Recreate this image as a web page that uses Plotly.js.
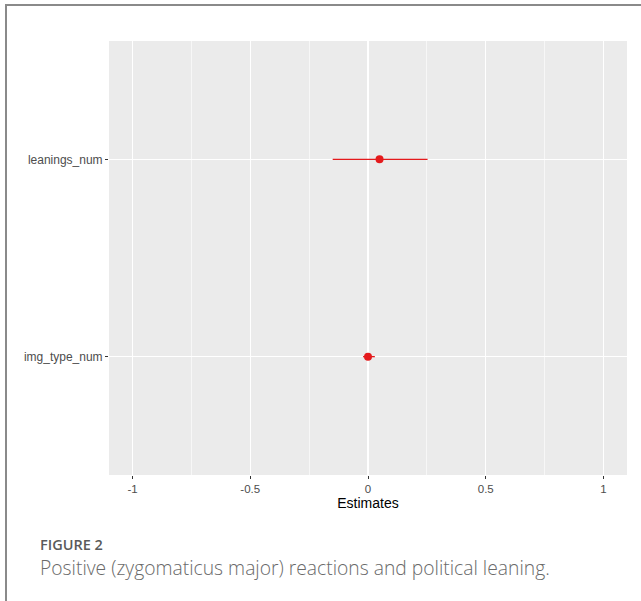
<!DOCTYPE html>
<html>
<head>
<meta charset="utf-8">
<script src="https://cdn.plot.ly/plotly-3.0.1.min.js"></script>
<style>
  html, body { margin: 0; padding: 0; background: #fff; }
  #wrap { position: relative; width: 641px; height: 601px; overflow: hidden; }
  #chart { position: absolute; left: 0; top: 0; width: 641px; height: 601px; }
  #frame { position: absolute; left: 5px; top: 4px; width: 700px; height: 700px;
           border-left: 2px solid #8a8a8a; border-top: 2px solid #8a8a8a; pointer-events: none; }
</style>
</head>
<body>
<div id="wrap">
  <div id="chart"></div>
  <div id="frame"></div>
</div>
<script>
// Data
var terms = ["img_type_num", "leanings_num"];
var estimates = [0.0, 0.049];
var ciLower = [-0.021, -0.15];
var ciUpper = [0.029, 0.253];
var xTickVals = [-1, -0.5, 0, 0.5, 1];
var xTickText = ["-1", "-0.5", "0", "0.5", "1"];

var errPlus = estimates.map(function (e, i) { return ciUpper[i] - e; });
var errMinus = estimates.map(function (e, i) { return e - ciLower[i]; });

var red = "#E41A1C";

var trace = {
  type: "scatter",
  mode: "markers",
  x: estimates,
  y: terms,
  marker: { color: red, size: 8 },
  error_x: {
    type: "data",
    symmetric: false,
    array: errPlus,
    arrayminus: errMinus,
    color: red,
    thickness: 1.3,
    width: 0
  },
  hoverinfo: "skip",
  showlegend: false
};

var layout = {
  width: 641,
  height: 601,
  margin: { l: 109, r: 14, t: 41, b: 126 },
  paper_bgcolor: "#ffffff",
  plot_bgcolor: "#EBEBEB",
  font: { family: "Liberation Sans, Arial, sans-serif", color: "#4D4D4D" },
  showlegend: false,
  xaxis: {
    range: [-1.1, 1.1],
    tickmode: "array",
    tickvals: xTickVals,
    ticktext: xTickText,
    ticks: "outside",
    ticklen: 3,
    tickwidth: 1,
    tickcolor: "#333333",
    tickfont: { size: 11.5, color: "#4D4D4D" },
    showgrid: true,
    gridcolor: "#ffffff",
    gridwidth: 1.1,
    minor: { tickmode: "array", tickvals: [-0.75, -0.25, 0.25, 0.75], showgrid: true, gridcolor: "#ffffff", gridwidth: 0.6, ticks: "" },
    zeroline: true,
    zerolinecolor: "#ffffff",
    zerolinewidth: 2,
    showline: false,
    fixedrange: true,
    title: { text: "Estimates", font: { size: 14, color: "#000000" }, standoff: 4 }
  },
  yaxis: {
    type: "category",
    categoryorder: "array",
    categoryarray: terms,
    range: [-0.6, 1.6],
    ticks: "outside",
    ticklen: 3,
    tickwidth: 1,
    tickcolor: "#333333",
    tickfont: { size: 12, color: "#4D4D4D" },
    showgrid: true,
    gridcolor: "#ffffff",
    gridwidth: 1.1,
    zeroline: false,
    showline: false,
    fixedrange: true
  },
  annotations: [
    {
      xref: "paper", yref: "paper", x: -0.1375, y: -0.161,
      xanchor: "left", yanchor: "middle",
      text: "FIGURE 2", showarrow: false,
      font: { family: "Open Sans, sans-serif", size: 14.5, color: "#5a5a5a", weight: 600 }
    },
    {
      xref: "paper", yref: "paper", x: -0.1375, y: -0.212,
      xanchor: "left", yanchor: "middle",
      text: "Positive (zygomaticus major) reactions and political leaning.", showarrow: false,
      font: { family: "Open Sans, sans-serif", size: 19.3, color: "#6a6a6a", weight: 300 }
    }
  ]
};

Plotly.newPlot("chart", [trace], layout, { displayModeBar: false, staticPlot: true });
</script>
</body>
</html>
